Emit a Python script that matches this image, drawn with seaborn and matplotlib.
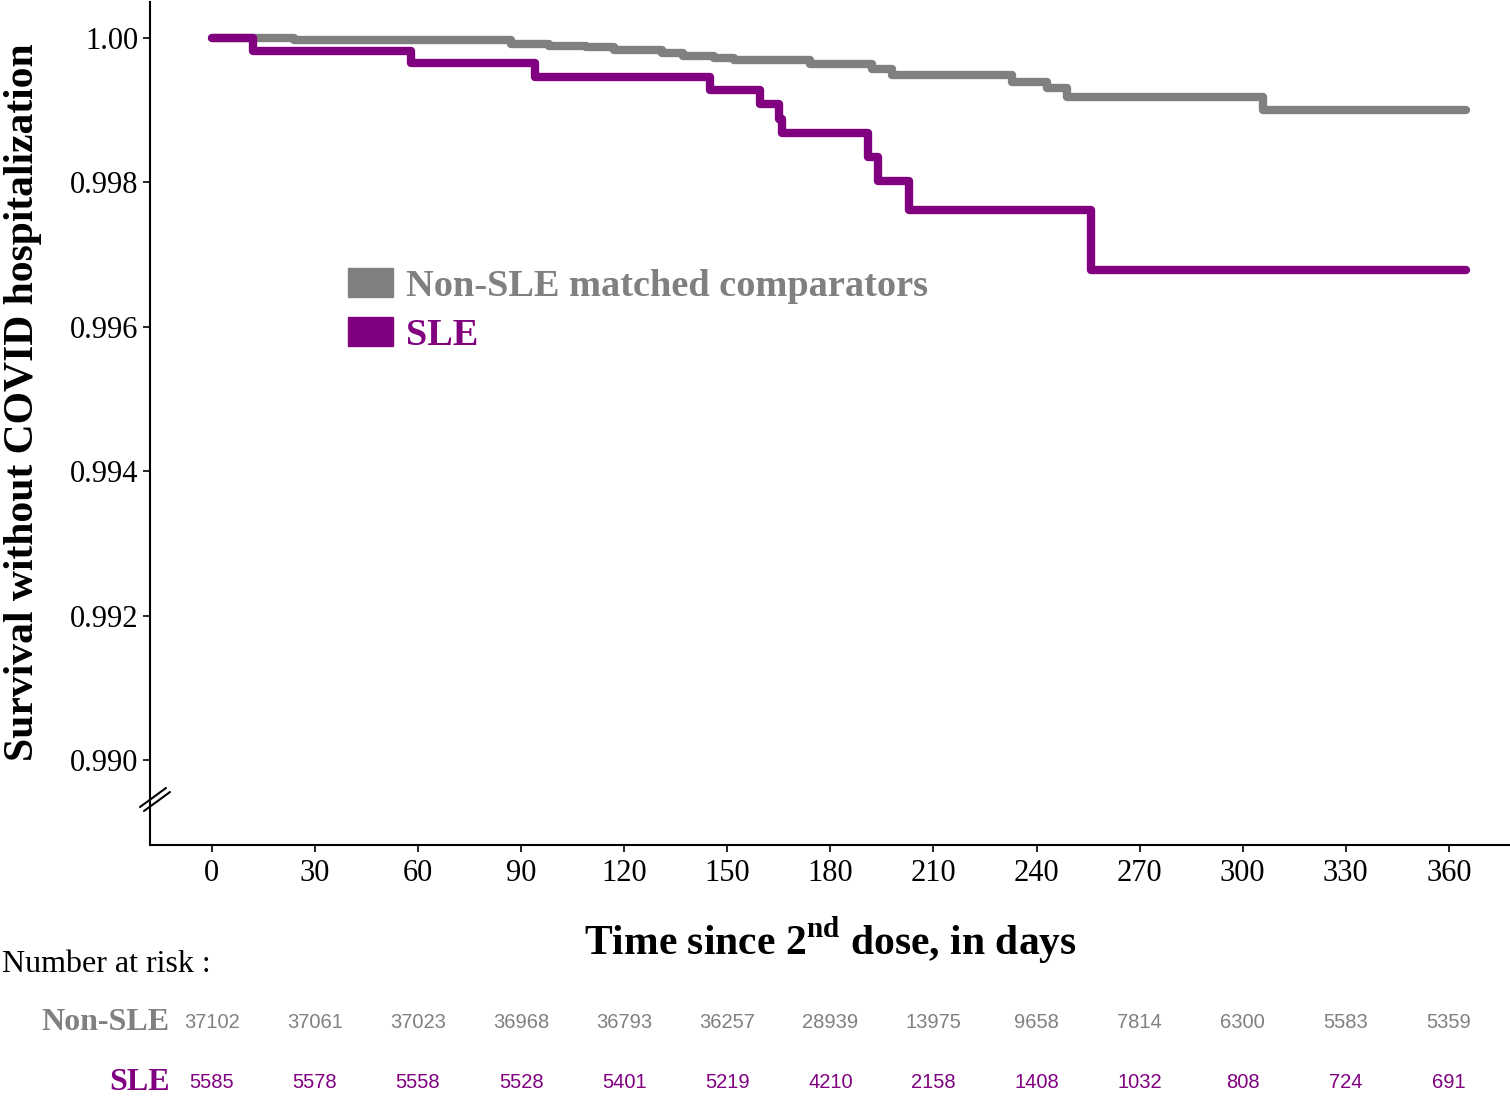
import numpy as np
import pandas as pd
import matplotlib
matplotlib.use("Agg")
import matplotlib.pyplot as plt
import seaborn as sns
from matplotlib.patches import Patch
from matplotlib import transforms

# Kaplan-Meier step points
non_sle_time = [0, 24, 87, 98, 109, 117, 131, 137, 146, 152, 174, 192, 198, 233, 243, 249, 306, 365]
non_sle_surv = [1.0, 0.99997, 0.99992, 0.99989, 0.99988, 0.99983, 0.99979, 0.99975, 0.99972,
                0.99969, 0.99964, 0.99957, 0.99949, 0.99939, 0.99931, 0.99919, 0.99901, 0.99901]

sle_time = [0, 12, 58, 94, 145, 159.5, 165, 166, 191, 194, 203, 256, 365]
sle_surv = [1.0, 0.99982, 0.99965, 0.99946, 0.99928, 0.99908, 0.99888, 0.99868, 0.99835,
            0.99802, 0.99762, 0.99679, 0.99679]

risk_times = [0, 30, 60, 90, 120, 150, 180, 210, 240, 270, 300, 330, 360]
risk_non_sle = [37102, 37061, 37023, 36968, 36793, 36257, 28939, 13975, 9658, 7814, 6300, 5583, 5359]
risk_sle = [5585, 5578, 5558, 5528, 5401, 5219, 4210, 2158, 1408, 1032, 808, 724, 691]

y_ticks = [0.990, 0.992, 0.994, 0.996, 0.998, 1.000]
y_tick_labels = ["0.990", "0.992", "0.994", "0.996", "0.998", "1.00"]

GRAY = "#808080"
PURPLE = "#800080"

sns.set_style("ticks")
plt.rcParams["font.family"] = ["Liberation Serif", "DejaVu Serif"]
plt.rcParams["mathtext.fontset"] = "custom"
plt.rcParams["mathtext.rm"] = "Liberation Serif"
plt.rcParams["mathtext.bf"] = "Liberation Serif:bold"
for key in ["text.color", "axes.labelcolor", "xtick.color", "ytick.color"]:
    plt.rcParams[key] = "black"

df = pd.concat([
    pd.DataFrame({"time": non_sle_time, "surv": non_sle_surv, "group": "Non-SLE matched comparators"}),
    pd.DataFrame({"time": sle_time, "surv": sle_surv, "group": "SLE"}),
])

fig = plt.figure(figsize=(15.1, 11.01), dpi=100)
ax = fig.add_axes([150 / 1510, 1 - 845 / 1101, 1360 / 1510, 843 / 1101])

sns.lineplot(data=df, x="time", y="surv", hue="group",
             palette={"Non-SLE matched comparators": GRAY, "SLE": PURPLE},
             drawstyle="steps-post", estimator=None, linewidth=6,
             legend=False, ax=ax)

ax.set_xlim(-18, 377.8)
ax.set_ylim(0.988823, 1.000499)
ax.set_xticks(risk_times)
ax.set_xticklabels([str(t) for t in risk_times], fontsize=22)
ax.set_yticks(y_ticks)
ax.set_yticklabels(y_tick_labels, fontsize=22)
ax.tick_params(axis="both", direction="out", length=5, width=1.2, color="black")
ax.tick_params(axis="x", pad=5)
for s in ["top", "right"]:
    ax.spines[s].set_visible(False)
for s in ["left", "bottom"]:
    ax.spines[s].set_linewidth(1.5)
    ax.spines[s].set_color("black")

ax.set_xlabel(r"Time since 2$^{\mathbf{nd}}$ dose, in days", fontsize=30,
              fontweight="bold", labelpad=20)
ax.set_ylabel("Survival without COVID hospitalization", fontsize=30,
              fontweight="bold")
ax.yaxis.set_label_coords(-0.0794, 0.5255)

# axis break marks
for dx in (0, 4):
    fig.lines.append(plt.Line2D([(140 + dx) / 1510, (166 + dx) / 1510],
                                [1 - (807 + dx) / 1101, 1 - (788 + dx) / 1101],
                                transform=fig.transFigure, color="black", linewidth=1.5))

handles = [Patch(facecolor=GRAY, edgecolor=GRAY), Patch(facecolor=PURPLE, edgecolor=PURPLE)]
leg = ax.legend(handles, ["Non-SLE matched comparators", "SLE"], frameon=False,
                loc="upper left", bbox_to_anchor=(0.1456, 0.685),
                borderpad=0, borderaxespad=0,
                prop={"family": "Liberation Serif", "weight": "bold", "size": 27.6},
                handlelength=1.18, handleheight=0.8, handletextpad=0.34,
                labelspacing=0.35, labelcolor=[GRAY, PURPLE])

# number at risk table
fig.text(2 / 1510, 1 - 965 / 1101, "Number at risk :", fontsize=23, va="center", ha="left")
fig.text(170 / 1510, 1 - 1022 / 1101, "Non-SLE", fontsize=23, fontweight="bold",
         color=GRAY, va="center", ha="right")
fig.text(170 / 1510, 1 - 1083 / 1101, "SLE", fontsize=23, fontweight="bold",
         color=PURPLE, va="center", ha="right")
trans = transforms.blended_transform_factory(ax.transData, fig.transFigure)
for t, n1, n2 in zip(risk_times, risk_non_sle, risk_sle):
    ax.text(t, 1 - 1022 / 1101, str(n1), transform=trans, ha="center", va="center",
            fontsize=14.5, color=GRAY, family="Liberation Sans", clip_on=False)
    ax.text(t, 1 - 1083 / 1101, str(n2), transform=trans, ha="center", va="center",
            fontsize=14.5, color=PURPLE, family="Liberation Sans", clip_on=False)

fig.savefig("out.png", dpi=100)
